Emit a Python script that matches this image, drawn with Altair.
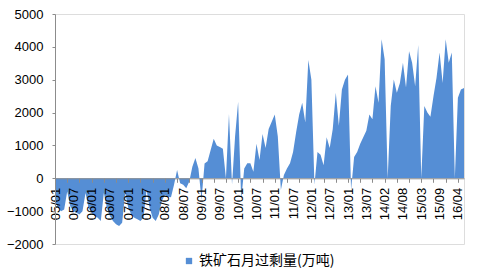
import json
import altair as alt
import pandas as pd

# Categories (YY/MM); January missing from 2014 on (combined Jan-Feb data)
months = [
    "05/01", "05/02", "05/03", "05/04", "05/05", "05/06", "05/07", "05/08", "05/09", "05/10", "05/11", "05/12",
    "06/01", "06/02", "06/03", "06/04", "06/05", "06/06", "06/07", "06/08", "06/09", "06/10", "06/11", "06/12",
    "07/01", "07/02", "07/03", "07/04", "07/05", "07/06", "07/07", "07/08", "07/09", "07/10", "07/11", "07/12",
    "08/01", "08/02", "08/03", "08/04", "08/05", "08/06", "08/07", "08/08", "08/09", "08/10", "08/11", "08/12",
    "09/01", "09/02", "09/03", "09/04", "09/05", "09/06", "09/07", "09/08", "09/09", "09/10", "09/11", "09/12",
    "10/01", "10/02", "10/03", "10/04", "10/05", "10/06", "10/07", "10/08", "10/09", "10/10", "10/11", "10/12",
    "11/01", "11/02", "11/03", "11/04", "11/05", "11/06", "11/07", "11/08", "11/09", "11/10", "11/11", "11/12",
    "12/01", "12/02", "12/03", "12/04", "12/05", "12/06", "12/07", "12/08", "12/09", "12/10", "12/11", "12/12",
    "13/01", "13/02", "13/03", "13/04", "13/05", "13/06", "13/07", "13/08", "13/09", "13/10", "13/11", "13/12",
    "14/02", "14/03", "14/04", "14/05", "14/06", "14/07", "14/08", "14/09", "14/10", "14/11", "14/12",
    "15/02", "15/03", "15/04", "15/05", "15/06", "15/07", "15/08", "15/09", "15/10", "15/11", "15/12",
    "16/02", "16/03", "16/04", "16/05", "16/06",
]

# 铁矿石月过剩量 (万吨)
surplus = [
    -700, -900, -1000, -950, -400, -850, -1000, -1050, -1100, -1000, -450, -900,
    -1050, -1150, -1200, -1300, -450, -900, -1150, -1300, -1400, -1450, -1350, -450,
    -900, -1100, -1200, -1250, -1300, -1200, -350, -900, -1200, -1300, -1100, -700,
    -500, -560, -580, -200, 250, -150, -200, -300, -100, 350, 620, 300,
    -660, 450, 520, 860, 1200, 1000, 950, 900, 0, 1960, -200, 1270,
    2330, -660, 300, 460, 460, 200, 1050, 560, 1350, 920, 1500, 1720,
    1940, 1270, -360, 100, 300, 460, 800, 1400, 1940, 2300, 1700, 3600,
    3000, -200, 800, 720, 400, 1250, 920, 1500, 2600, 1600, 2700, 3000,
    3160, -360, 650, 800, 1050, 1250, 1450, 1940, 1800, 2800, 2300, 4230,
    3620, 0, 2200, 3010, 2600, 2900, 3520, 2760, 3870, 3520, 2800,
    4060, 0, 2200, 2000, 1870, 2500, 3060, 3830, 2900, 4230, 3520,
    3830, 0, 2450, 2700, 2750,
]

series_name = "铁矿石月过剩量(万吨)"
y_ticks = [-2000, -1000, 0, 1000, 2000, 3000, 4000, 5000]

n = len(months)
df = pd.DataFrame({
    "idx": list(range(n)),
    "month": months,
    "surplus": surplus,
    "series": [series_name] * n,
})

W, H = 409, 230
zero_offset = -H * 2000 / 7000

axis_vals = [i for i in range(n) if i % 4 == 0 or i % 6 == 0]
label_expr = "datum.value % 6 == 0 ? " + json.dumps(months) + "[datum.value] : ''"

AX = "#8c8c8c"

chart = alt.Chart(df).mark_area(interpolate="linear", opacity=1).encode(
    x=alt.X(
        "idx:Q",
        scale=alt.Scale(domain=[0, n - 1], nice=False, zero=False),
        axis=alt.Axis(
            values=axis_vals,
            labelExpr=label_expr,
            labelAngle=270,
            labelAlign="right",
            labelBaseline="middle",
            labelFont="Liberation Sans",
            labelFontSize=13,
            labelColor="black",
            labelPadding=5,
            labelOverlap=False,
            labelFlush=False,
            labelBound=False,
            tickSize=4,
            tickColor=AX,
            tickOpacity={"condition": {"test": "datum.value % 4 == 0", "value": 1}, "value": 0},
            domainColor=AX,
            offset=zero_offset,
            grid=False,
            title=None,
            zindex=1,
        ),
    ),
    y=alt.Y(
        "surplus:Q",
        scale=alt.Scale(domain=[-2000, 5000], nice=False),
        axis=alt.Axis(
            values=y_ticks,
            format="d",
            labelFont="Liberation Sans",
            labelFontSize=13,
            labelColor="black",
            labelPadding=9,
            tickSize=3,
            tickColor=AX,
            domainColor=AX,
            grid=False,
            title=None,
            zindex=1,
        ),
    ),
    color=alt.Color(
        "series:N",
        scale=alt.Scale(range=["#558ED5"]),
        legend=alt.Legend(
            orient="none",
            legendX=127,
            legendY=240,
            title=None,
            symbolType="square",
            symbolSize=40,
            symbolStrokeWidth=0,
            labelFont="Noto Sans CJK SC",
            labelFontSize=14,
            labelColor="black",
            labelOffset=3,
            padding=0,
        ),
    ),
).properties(
    width=W,
    height=H,
    autosize=alt.AutoSizeParams(type="none"),
    padding={"left": 55, "top": 14, "right": 14, "bottom": 32},
).configure_view(stroke=None).configure(background="white")

chart.save("out.html", embed_options={"renderer": "svg", "actions": False})
